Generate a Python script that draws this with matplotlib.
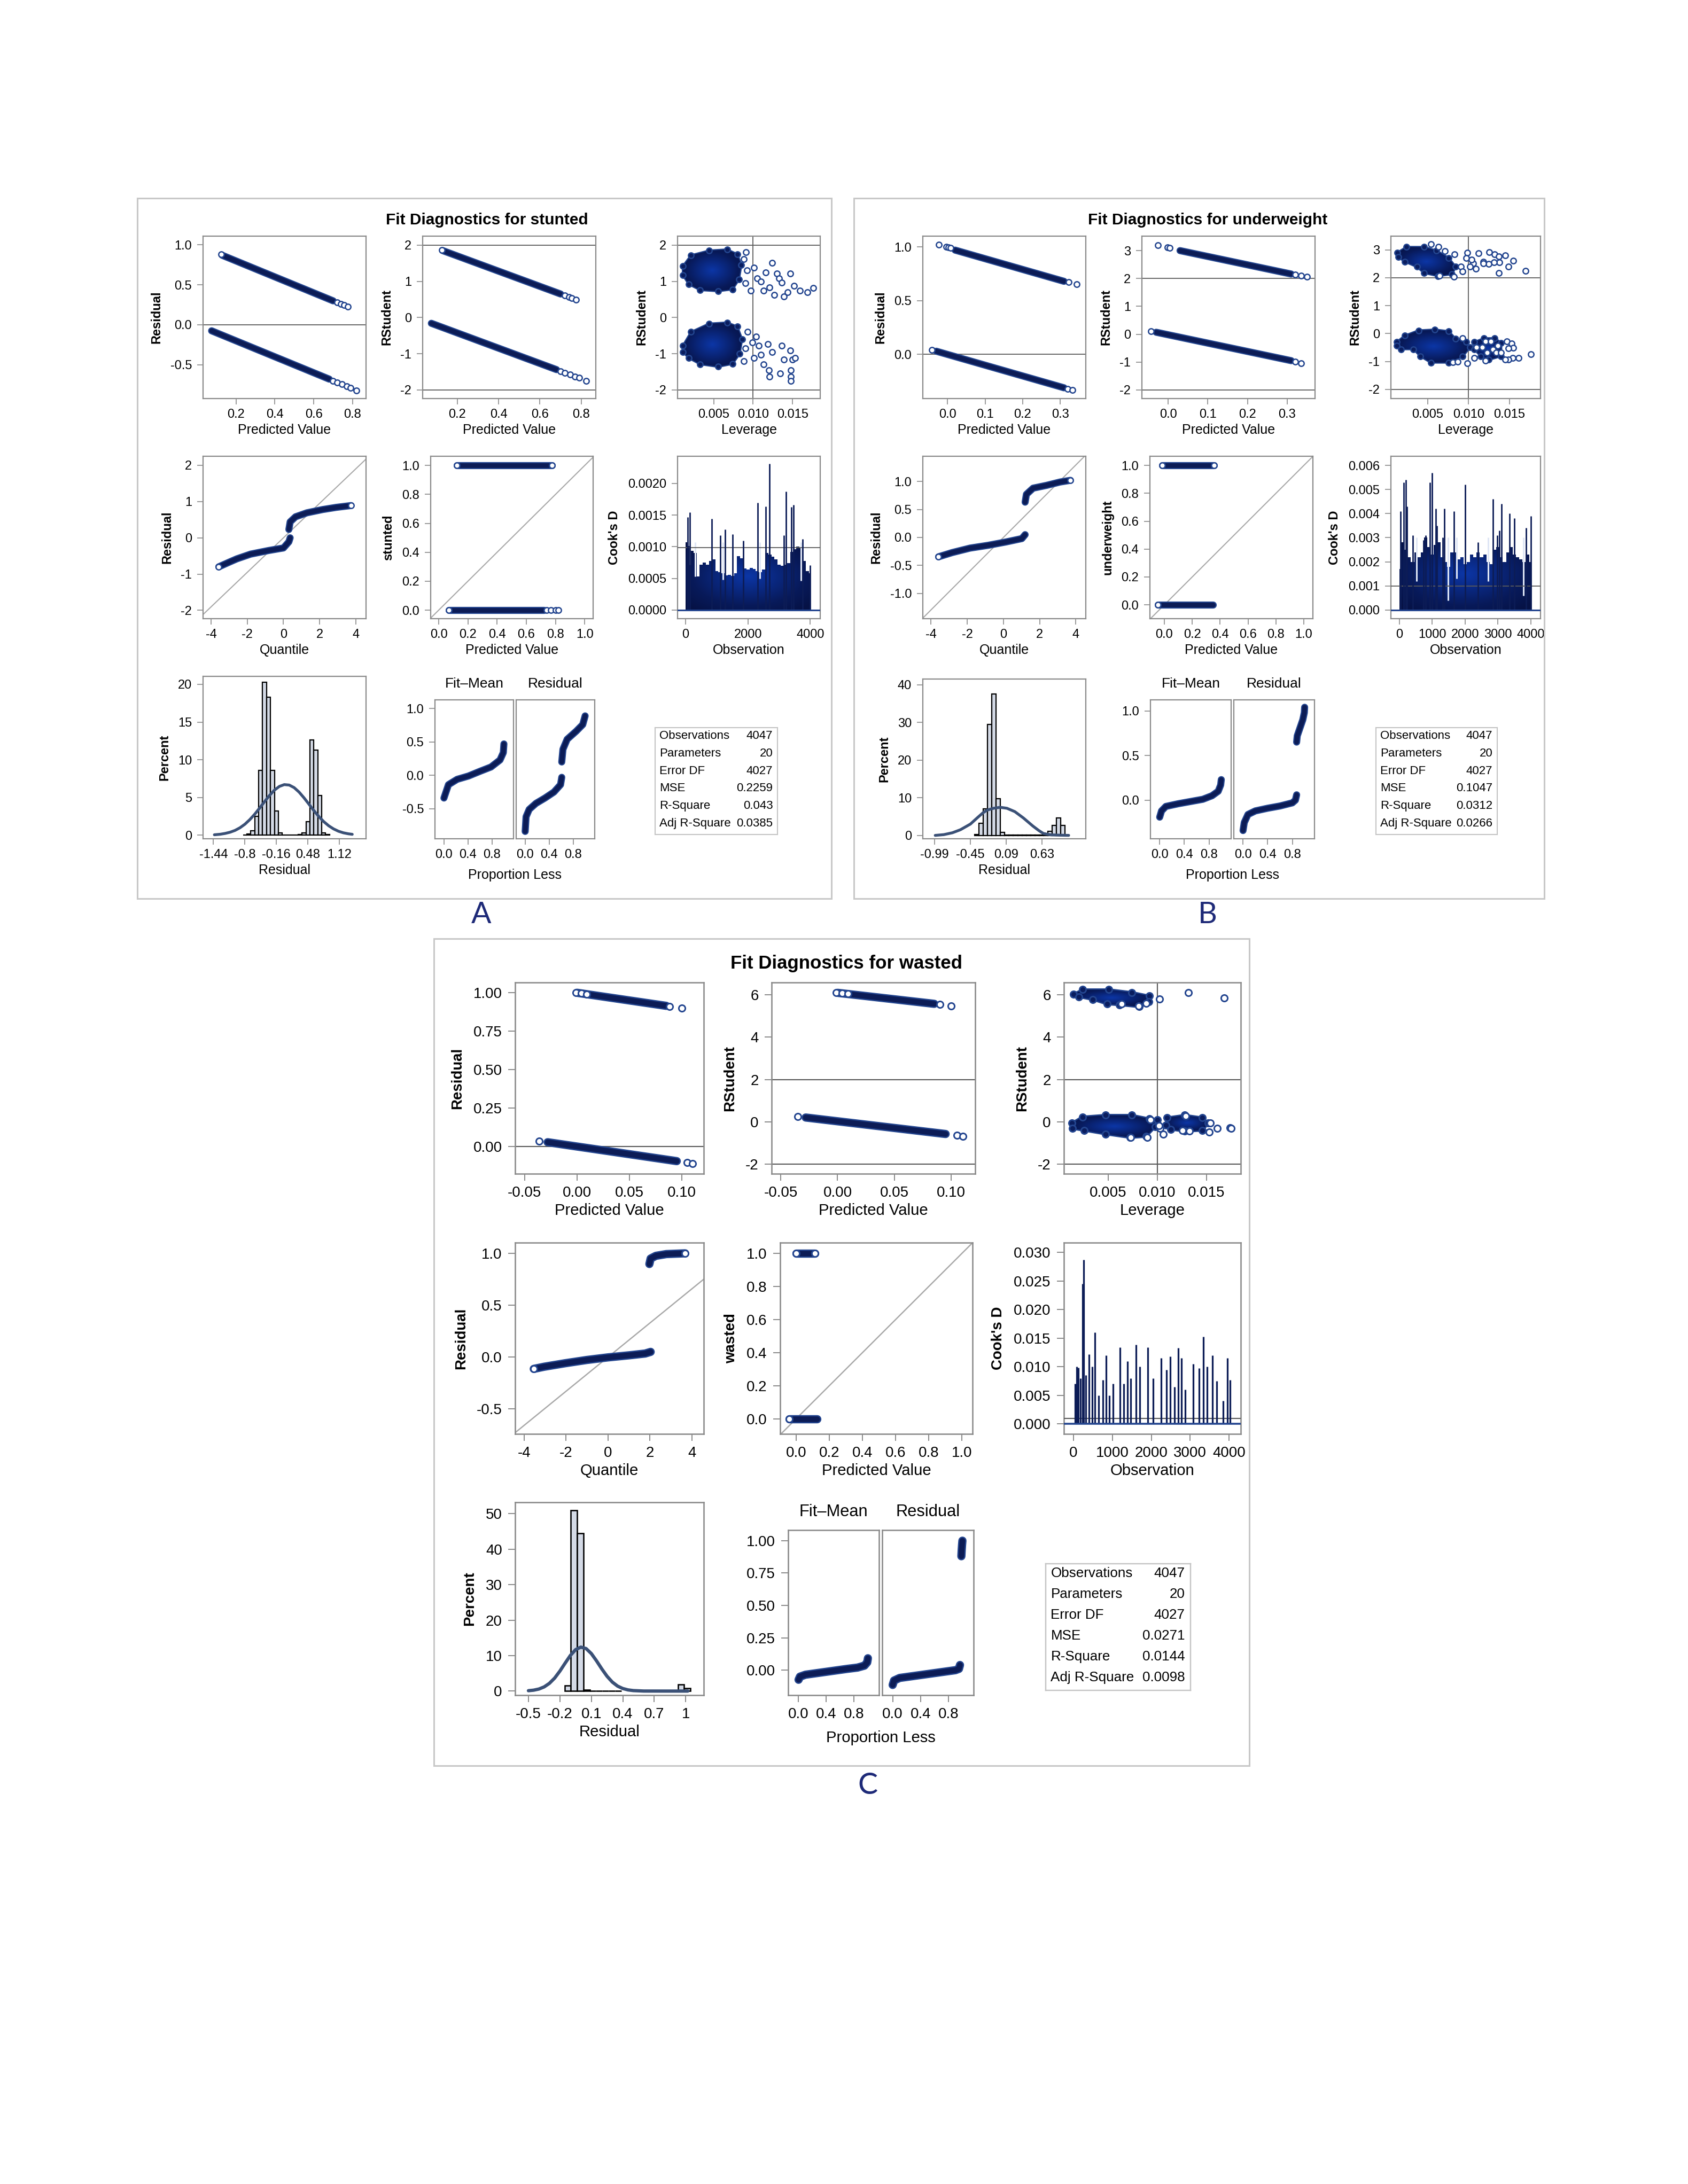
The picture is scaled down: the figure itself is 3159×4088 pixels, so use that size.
import matplotlib
matplotlib.use("Agg")
import matplotlib.pyplot as plt
import numpy as np
from matplotlib.patches import Polygon, Rectangle
from matplotlib.colors import LinearSegmentedColormap
from matplotlib.ticker import FormatStrFormatter

# ---------------- data ----------------
STAT_LABELS = ["Observations", "Parameters", "Error DF", "MSE", "R-Square", "Adj R-Square"]
N_OBS = 4047

# A: stunted
A_STATS = ["4047", "20", "4027", "0.2259", "0.043", "0.0385"]
A_RES_HI_X = [0.13, 0.70]
A_RES_HI_Y = [0.87, 0.30]
A_RES_HI_TX = [0.125, 0.72, 0.74, 0.755, 0.775]
A_RES_HI_TY = [0.88, 0.28, 0.26, 0.245, 0.225]
A_RES_LO_X = [0.075, 0.68]
A_RES_LO_Y = [-0.075, -0.68]
A_RES_LO_TX = [0.70, 0.72, 0.745, 0.77, 0.79, 0.82]
A_RES_LO_TY = [-0.70, -0.72, -0.745, -0.77, -0.79, -0.82]
A_RST_HI_X = [0.13, 0.70]
A_RST_HI_Y = [1.85, 0.65]
A_RST_HI_TX = [0.125, 0.72, 0.74, 0.755, 0.775]
A_RST_HI_TY = [1.87, 0.61, 0.57, 0.53, 0.49]
A_RST_LO_X = [0.075, 0.68]
A_RST_LO_Y = [-0.16, -1.44]
A_RST_LO_TX = [0.70, 0.72, 0.745, 0.77, 0.79, 0.824]
A_RST_LO_TY = [-1.49, -1.53, -1.58, -1.63, -1.67, -1.75]
A_LEV_HI_CX = [0.00111, 0.00214, 0.00443, 0.00671, 0.0080, 0.0085, 0.0082, 0.0074, 0.00557, 0.00329, 0.00186, 0.00111]
A_LEV_HI_CY = [1.42, 1.72, 1.85, 1.88, 1.75, 1.45, 1.05, 0.78, 0.73, 0.76, 0.92, 1.17]
A_LEV_HI_SX = [0.0088, 0.0092, 0.0090, 0.0097, 0.0101, 0.0105, 0.0110, 0.0113, 0.0116, 0.0121, 0.0124,
               0.0127, 0.0130, 0.0133, 0.0136, 0.0139, 0.0144, 0.0147, 0.0152, 0.0159, 0.0169, 0.0176, 0.0091]
A_LEV_HI_SY = [1.62, 1.30, 0.95, 0.75, 1.38, 1.08, 1.00, 0.75, 1.25, 0.83, 1.51,
               0.62, 1.21, 1.08, 0.96, 0.58, 0.70, 1.21, 0.87, 0.75, 0.70, 0.81, 1.80]
A_LEV_LO_CX = [0.00111, 0.00214, 0.00443, 0.00671, 0.0080, 0.0086, 0.0083, 0.0074, 0.00557, 0.00329, 0.00186, 0.00111]
A_LEV_LO_CY = [-0.78, -0.40, -0.17, -0.14, -0.25, -0.60, -1.00, -1.28, -1.36, -1.29, -1.12, -0.95]
A_LEV_LO_SX = [0.0090, 0.0093, 0.0099, 0.0101, 0.0104, 0.0107, 0.0110, 0.0113, 0.0119, 0.0120, 0.0121,
               0.0124, 0.0134, 0.0136, 0.0139, 0.0147, 0.0148, 0.0148, 0.0148, 0.0150, 0.0153, 0.0088]
A_LEV_LO_SY = [-0.85, -0.40, -0.69, -1.12, -0.53, -0.78, -1.03, -1.29, -0.74, -1.46, -1.63,
               -0.95, -1.54, -0.78, -1.16, -0.91, -1.46, -1.63, -1.75, -1.16, -1.12, -1.20]
A_QQ_LO_X = [-3.58, -2.95, -2.58, -1.82, -0.82, 0.0, 0.30, 0.37]
A_QQ_LO_Y = [-0.80, -0.66, -0.58, -0.45, -0.35, -0.28, -0.11, 0.0]
A_QQ_HI_X = [0.30, 0.37, 0.67, 1.3, 2.17, 2.92, 3.74]
A_QQ_HI_Y = [0.23, 0.44, 0.58, 0.69, 0.78, 0.84, 0.89]
A_OBS_HI_X = [0.123, 0.775]
A_OBS_LO_X = [0.068, 0.72]
A_OBS_LO_TX = [0.74, 0.77, 0.80, 0.82]
A_COOK_BAND = [0.00107, 0.00101, 0.00094, 0.00090, 0.00053, 0.00072, 0.00075, 0.00072, 0.00078, 0.00080,
               0.00062, 0.00060, 0.00058, 0.00055, 0.00056, 0.00054, 0.00058, 0.00085, 0.00082, 0.00066,
               0.00064, 0.00067, 0.00065, 0.00062, 0.00060, 0.00064, 0.00090, 0.00088, 0.00084, 0.00080,
               0.00072, 0.00070, 0.00072, 0.00074, 0.00092, 0.00096, 0.00100, 0.00098, 0.00078, 0.00062,
               0.00058]
A_COOK_OBS = [74, 142, 834, 1106, 1265, 1503, 1855, 2314, 2564, 2694, 3148, 3222, 3392, 3466, 3744, 3988]
A_COOK_VAL = [0.00147, 0.00154, 0.00144, 0.00118, 0.00127, 0.00120, 0.00110, 0.00170, 0.00164, 0.00231,
              0.00118, 0.00187, 0.00163, 0.00166, 0.00112, 0.00071]
A_COOK_DIP_OBS = [142, 300, 1190, 2380, 3700]
A_COOK_DIP_VAL = [0.00072, 0.00053, 0.00048, 0.00050, 0.00046]
A_HIST_BIN = 0.08
A_HIST_MID = [-0.80, -0.72, -0.64, -0.56, -0.48, -0.40, -0.32, -0.24, -0.16, -0.08, 0.00, 0.08,
              0.16, 0.24, 0.32, 0.40, 0.48, 0.56, 0.64, 0.72, 0.80, 0.88]
A_HIST_PCT = [0.05, 0.2, 0.6, 2.5, 8.6, 20.3, 18.3, 8.6, 3.2, 0.3, 0.05, 0.05,
              0.05, 0.05, 0.1, 0.3, 1.8, 12.6, 11.3, 5.3, 0.3, 0.1]
A_NORM_X = [-1.42, -1.3, -1.2, -1.1, -1.0, -0.9, -0.8, -0.7, -0.6, -0.5, -0.4, -0.3, -0.2, -0.1, 0.0,
            0.1, 0.2, 0.3, 0.4, 0.5, 0.6, 0.7, 0.8, 0.9, 1.0, 1.1, 1.2, 1.3, 1.38]
A_NORM_Y = [0.06, 0.13, 0.24, 0.40, 0.64, 0.99, 1.46, 2.07, 2.79, 3.61, 4.46, 5.28, 5.98, 6.47, 6.71,
            6.65, 6.31, 5.72, 4.96, 4.12, 3.27, 2.49, 1.81, 1.26, 0.84, 0.53, 0.32, 0.19, 0.12]
A_HIST_TICKS = [-1.44, -0.8, -0.16, 0.48, 1.12]
A_HIST_TICKLABELS = ["-1.44", "-0.8", "-0.16", "0.48", "1.12"]
A_FM_P = [0.0, 0.075, 0.22, 0.41, 0.6, 0.785, 0.935, 0.99, 1.0]
A_FM_Y = [-0.34, -0.14, -0.06, -0.01, 0.06, 0.125, 0.23, 0.34, 0.47]
A_RS_LO_P = [0.0, 0.015, 0.067, 0.18, 0.33, 0.48, 0.59, 0.61]
A_RS_LO_Y = [-0.84, -0.62, -0.51, -0.42, -0.34, -0.25, -0.14, -0.03]
A_RS_HI_P = [0.61, 0.63, 0.70, 0.85, 0.96, 1.0]
A_RS_HI_Y = [0.20, 0.39, 0.54, 0.66, 0.76, 0.89]

# B: underweight
B_STATS = ["4047", "20", "4027", "0.1047", "0.0312", "0.0266"]
B_RES_HI_X = [0.02, 0.31]
B_RES_HI_Y = [0.97, 0.68]
B_RES_HI_TX = [-0.024, -0.004, 0.002, 0.008, 0.322, 0.344]
B_RES_HI_TY = [1.02, 1.0, 0.995, 0.99, 0.675, 0.655]
B_RES_LO_X = [-0.03, 0.31]
B_RES_LO_Y = [0.03, -0.31]
B_RES_LO_TX = [-0.042, 0.32, 0.333]
B_RES_LO_TY = [0.042, -0.32, -0.333]
B_RST_HI_X = [0.03, 0.31]
B_RST_HI_Y = [3.0, 2.16]
B_RST_HI_TX = [-0.025, -0.002, 0.004, 0.32, 0.335, 0.35]
B_RST_HI_TY = [3.2, 3.12, 3.1, 2.14, 2.1, 2.07]
B_RST_LO_X = [-0.03, 0.31]
B_RST_LO_Y = [0.07, -0.95]
B_RST_LO_TX = [-0.043, 0.32, 0.335]
B_RST_LO_TY = [0.11, -0.98, -1.04]
B_LEV_HI_CX = [0.00134, 0.00242, 0.0046, 0.0061, 0.00758, 0.00844, 0.0080, 0.0063, 0.0046, 0.0037, 0.0022, 0.00145]
B_LEV_HI_CY = [2.90, 3.10, 3.10, 2.97, 2.71, 2.39, 2.13, 2.06, 2.17, 2.39, 2.58, 2.74]
B_LEV_HI_SX = [0.0054, 0.00633, 0.0071, 0.00827, 0.00984, 0.01124, 0.01253, 0.01317, 0.01371, 0.0145,
               0.0155, 0.0149, 0.0138, 0.0131, 0.0125, 0.0118, 0.0118, 0.0137, 0.0170, 0.0106, 0.0102,
               0.0109, 0.0091, 0.0093, 0.0082, 0.0065, 0.0097, 0.0104]
B_LEV_HI_SY = [3.21, 3.11, 2.96, 2.84, 2.90, 2.88, 2.92, 2.84, 2.76, 2.81,
               2.60, 2.40, 2.55, 2.55, 2.49, 2.57, 2.51, 2.17, 2.24, 2.51, 2.39,
               2.33, 2.39, 2.23, 2.03, 2.07, 2.71, 2.65]
B_LEV_LO_CX = [0.00124, 0.0022, 0.0039, 0.0059, 0.0076, 0.0084, 0.0097, 0.0102, 0.0093, 0.0076, 0.0054,
               0.0041, 0.0033, 0.0018, 0.00124]
B_LEV_LO_CY = [-0.31, -0.08, 0.11, 0.14, 0.08, -0.18, -0.31, -0.49, -0.82, -1.04, -1.04,
               -0.81, -0.56, -0.56, -0.43]
B_LEV_LO2_CX = [0.0107, 0.0119, 0.0132, 0.0140, 0.0140, 0.0125, 0.0115, 0.0107]
B_LEV_LO2_CY = [-0.31, -0.17, -0.17, -0.33, -0.81, -0.94, -0.81, -0.56]
B_LEV_LO_SX = [0.0147, 0.0153, 0.0155, 0.0149, 0.0154, 0.0161, 0.0176, 0.0149, 0.00984, 0.0107, 0.0093,
               0.0117, 0.0123, 0.0130, 0.0136, 0.0121, 0.0127, 0.0134, 0.0140, 0.0145, 0.0121, 0.0110,
               0.0081, 0.0087]
B_LEV_LO_SY = [-0.28, -0.36, -0.51, -0.53, -0.87, -0.87, -0.74, -0.94, -1.07, -0.87, -0.17,
               -0.49, -0.68, -0.56, -0.43, -0.28, -0.28, -0.68, -0.68, -0.94, -0.97, -0.49,
               -1.02, -1.00]
B_QQ_LO_X = [-3.58, -2.83, -1.84, -0.84, 0.15, 1.02, 1.2]
B_QQ_LO_Y = [-0.345, -0.27, -0.19, -0.14, -0.08, -0.02, 0.05]
B_QQ_HI_X = [1.2, 1.27, 1.64, 2.38, 3.13, 3.7]
B_QQ_HI_Y = [0.63, 0.77, 0.88, 0.93, 0.99, 1.02]
B_OBS_HI_X = [-0.015, 0.358]
B_OBS_LO_X = [-0.045, 0.35]
B_OBS_LO_TX = []
B_COOK_BAND = [0.0017, 0.0028, 0.0025, 0.0022, 0.0020, 0.0024, 0.0022, 0.0024, 0.0030, 0.0026,
               0.0023, 0.0027, 0.0028, 0.0022, 0.0020, 0.0018, 0.0024, 0.0024, 0.0021, 0.0022,
               0.0019, 0.0020, 0.0023, 0.0022, 0.0024, 0.0022, 0.0023, 0.0020, 0.0019, 0.0025,
               0.0026, 0.0022, 0.0020, 0.0024, 0.0026, 0.0023, 0.0022, 0.0021, 0.0020, 0.0023, 0.0020]
B_COOK_OBS = [27, 135, 200, 232, 405, 730, 795, 935, 1000, 1108, 1135, 1313, 1368, 1665, 2010, 2395,
              2854, 2973, 3038, 3108, 3362, 3497, 3865, 4010]
B_COOK_VAL = [0.0041, 0.0053, 0.0054, 0.0043, 0.0031, 0.0029, 0.0031, 0.0053, 0.0057, 0.0042, 0.0035,
              0.0030, 0.0042, 0.0041, 0.0052, 0.0028, 0.0046, 0.0031, 0.0033, 0.0044, 0.0040, 0.0038,
              0.0034, 0.0039]
B_COOK_DIP_OBS = [1486, 3773, 520, 1750, 2700]
B_COOK_DIP_VAL = [0.0004, 0.0006, 0.0012, 0.0013, 0.0012]
B_HIST_BIN = 0.065
B_HIST_MID = [-0.355, -0.29, -0.225, -0.16, -0.095, -0.03, 0.035, 0.10, 0.165, 0.23, 0.295, 0.36,
              0.425, 0.49, 0.555, 0.62, 0.685, 0.75, 0.815, 0.88, 0.945, 1.01]
B_HIST_PCT = [0.2, 3.2, 7.0, 29.4, 37.5, 9.8, 0.85, 0.05, 0.05, 0.05, 0.05, 0.05,
              0.05, 0.05, 0.05, 0.1, 0.3, 1.1, 2.6, 4.6, 2.6, 0.15]
B_NORM_X = [-0.98, -0.85, -0.72, -0.6, -0.45, -0.35, -0.26, -0.2, -0.1, 0.0, 0.1, 0.22, 0.35, 0.49,
            0.58, 0.65, 0.76, 0.9, 1.03]
B_NORM_Y = [0.0, 0.2, 0.7, 1.5, 3.0, 4.6, 6.0, 6.7, 7.2, 7.45, 7.2, 6.3, 4.6, 2.5,
            1.3, 0.5, 0.15, 0.05, 0.0]
B_HIST_TICKS = [-0.99, -0.45, 0.09, 0.63]
B_HIST_TICKLABELS = ["-0.99", "-0.45", "0.09", "0.63"]
B_FM_P = [0.0, 0.03, 0.1, 0.3, 0.5, 0.7, 0.85, 0.95, 0.99, 1.0]
B_FM_Y = [-0.19, -0.12, -0.07, -0.04, -0.015, 0.01, 0.05, 0.10, 0.17, 0.23]
B_RS_LO_P = [0.0, 0.02, 0.08, 0.2, 0.4, 0.6, 0.8, 0.85, 0.87]
B_RS_LO_Y = [-0.34, -0.25, -0.16, -0.12, -0.09, -0.065, -0.03, 0.0, 0.06]
B_RS_HI_P = [0.87, 0.88, 0.92, 0.97, 0.995, 1.0]
B_RS_HI_Y = [0.65, 0.72, 0.80, 0.90, 0.98, 1.04]

# C: wasted
C_STATS = ["4047", "20", "4027", "0.0271", "0.0144", "0.0098"]
C_RES_HI_X = [0.0, 0.085]
C_RES_HI_Y = [1.0, 0.915]
C_RES_HI_TX = [-0.001, 0.004, 0.009, 0.088, 0.10]
C_RES_HI_TY = [1.001, 0.996, 0.991, 0.912, 0.90]
C_RES_LO_X = [-0.028, 0.095]
C_RES_LO_Y = [0.028, -0.095]
C_RES_LO_TX = [-0.036, 0.105, 0.11]
C_RES_LO_TY = [0.036, -0.105, -0.11]
C_RST_HI_X = [0.0, 0.085]
C_RST_HI_Y = [6.1, 5.58]
C_RST_HI_TX = [-0.001, 0.004, 0.009, 0.09, 0.10]
C_RST_HI_TY = [6.12, 6.09, 6.06, 5.55, 5.48]
C_RST_LO_X = [-0.028, 0.095]
C_RST_LO_Y = [0.2, -0.58]
C_RST_LO_TX = [-0.035, 0.105, 0.11]
C_RST_LO_TY = [0.25, -0.65, -0.68]
C_LEV_HI_CX = [0.00149, 0.00239, 0.0051, 0.00743, 0.00923, 0.00914, 0.00815, 0.00617, 0.00491, 0.00347, 0.00203]
C_LEV_HI_CY = [6.03, 6.25, 6.25, 6.12, 5.95, 5.69, 5.44, 5.53, 5.57, 5.78, 5.91]
C_LEV_HI_SX = [0.01023, 0.01316, 0.01684, 0.0081, 0.0064, 0.0089]
C_LEV_HI_SY = [5.80, 6.10, 5.85, 5.48, 5.57, 5.61]
C_LEV_LO_CX = [0.00131, 0.00239, 0.00473, 0.00743, 0.00923, 0.0100, 0.0098, 0.00887, 0.00725, 0.00473,
               0.00257, 0.0014]
C_LEV_LO_CY = [-0.07, 0.23, 0.31, 0.31, 0.14, 0.10, -0.24, -0.70, -0.75, -0.58, -0.41, -0.32]
C_LEV_LO2_CX = [0.0110, 0.0128, 0.0146, 0.0152, 0.0146, 0.0128, 0.0114, 0.0109]
C_LEV_LO2_CY = [0.19, 0.31, 0.19, -0.07, -0.41, -0.45, -0.36, -0.15]
C_LEV_LO_SX = [0.0103, 0.0106, 0.0102, 0.0153, 0.0161, 0.0174, 0.0175, 0.0129, 0.0093, 0.0073,
               0.0090, 0.0133, 0.0126, 0.0154]
C_LEV_LO_SY = [-0.32, -0.58, -0.19, -0.49, -0.32, -0.28, -0.32, 0.27, 0.10, -0.75,
               -0.75, -0.45, -0.41, -0.07]
C_QQ_LO_X = [-3.54, -3.04, -2.03, -1.01, 0.0, 1.01, 1.77, 2.03]
C_QQ_LO_Y = [-0.114, -0.093, -0.059, -0.028, -0.003, 0.017, 0.034, 0.05]
C_QQ_HI_X = [1.97, 2.03, 2.28, 2.78, 3.67]
C_QQ_HI_Y = [0.897, 0.95, 0.976, 0.993, 1.0]
C_OBS_HI_X = [0.0, 0.112]
C_OBS_LO_X = [-0.042, 0.125]
C_OBS_LO_TX = []
C_COOK_OBS = [41, 82, 123, 178, 232, 260, 314, 396, 478, 546, 642, 751, 833, 928, 1024, 1201, 1297, 1393,
              1474, 1611, 1706, 1911, 2048, 2253, 2389, 2485, 2594, 2690, 2771, 2867, 3072, 3235, 3345,
              3440, 3577, 3686, 3850, 3959, 4027]
C_COOK_VAL = [0.0070, 0.0100, 0.0098, 0.0080, 0.0245, 0.0287, 0.0085, 0.0122, 0.0100, 0.0160, 0.0050,
              0.0077, 0.0120, 0.0050, 0.0070, 0.0134, 0.0070, 0.0110, 0.0080, 0.0139, 0.0100, 0.0134,
              0.0080, 0.0115, 0.0095, 0.0118, 0.0065, 0.0133, 0.0115, 0.0060, 0.0105, 0.0097, 0.0153,
              0.0100, 0.0120, 0.0075, 0.0040, 0.0115, 0.0077]
C_HIST_BIN = 0.06
C_HIST_MID = [-0.125, -0.065, -0.005, 0.055, 0.115, 0.175, 0.235, 0.295, 0.355, 0.955, 1.015]
C_HIST_PCT = [1.5, 51.0, 44.5, 0.3, 0.1, 0.1, 0.1, 0.05, 0.05, 1.8, 0.8]
C_NORM_X = [-0.5, -0.45, -0.4, -0.35, -0.3, -0.25, -0.2, -0.15, -0.1, -0.05, 0.0, 0.05, 0.1, 0.15,
            0.2, 0.25, 0.3, 0.35, 0.4, 0.45, 0.5, 0.6, 0.8, 1.02]
C_NORM_Y = [0.11, 0.26, 0.58, 1.18, 2.18, 3.66, 5.63, 7.87, 10.04, 11.68, 12.39, 11.98, 10.57, 8.5,
            6.24, 4.17, 2.54, 1.41, 0.72, 0.33, 0.14, 0.01, 0.0, 0.0]
C_HIST_TICKS = [-0.5, -0.2, 0.1, 0.4, 0.7, 1.0]
C_HIST_TICKLABELS = ["-0.5", "-0.2", "0.1", "0.4", "0.7", "1"]
C_FM_P = [0.0, 0.02, 0.1, 0.3, 0.5, 0.7, 0.85, 0.95, 0.99, 1.0]
C_FM_Y = [-0.074, -0.05, -0.035, -0.02, -0.005, 0.01, 0.02, 0.035, 0.06, 0.092]
C_RS_LO_P = [0.0, 0.02, 0.1, 0.3, 0.5, 0.7, 0.9, 0.95, 0.965]
C_RS_LO_Y = [-0.114, -0.08, -0.06, -0.045, -0.03, -0.015, 0.0, 0.01, 0.04]
C_RS_HI_P = [0.985, 0.99, 0.995, 1.0]
C_RS_HI_Y = [0.88, 0.93, 0.97, 1.0]

COOK_BAND_OBS = list(range(0, 4001, 100))

# ---------------- style ----------------
W, H, DPI = 3159, 4088, 100
NAVY = "#0c1c56"
EDGE = "#23458f"
CLOUD = "#0a1d5e"
FRAME = "#8a8a8a"
TICKC = "#8a8a8a"
REF = "#5a5a5a"
DIAG = "#a8a8a8"
BAR = "#d4dae6"
CURVE = "#3b5177"
LETTER = "#1e2a78"
RAD_CMAP = LinearSegmentedColormap.from_list("rad", ["#0c36a6", "#0a2880", "#081a5a", "#061245"])
REG = ["Liberation Sans", "DejaVu Sans"]

plt.rcParams["font.family"] = REG
plt.rcParams["axes.unicode_minus"] = False

fig = plt.figure(figsize=(W / DPI, H / DPI), dpi=DPI)
fig.patch.set_facecolor("white")


def px_axes(l, t, r, b):
    return fig.add_axes([l / W, 1 - b / H, (r - l) / W, (b - t) / H])


def setup(ax, s, xlim, ylim, xt, yt, xf=None, yf=None, xlabel=None, ylabel=None, xtl=None):
    ax.set_xlim(*xlim)
    ax.set_ylim(*ylim)
    ax.set_xticks(xt)
    ax.set_yticks(yt)
    if xtl is not None:
        ax.set_xticklabels(xtl)
    elif xf:
        ax.xaxis.set_major_formatter(FormatStrFormatter(xf))
    if yf:
        ax.yaxis.set_major_formatter(FormatStrFormatter(yf))
    for sp in ax.spines.values():
        sp.set_color(FRAME)
        sp.set_linewidth(1.6 * s)
    ax.tick_params(direction="out", length=8 * s, width=1.2 * s, color=TICKC,
                   labelsize=17 * s, labelcolor="black")
    ax.tick_params(axis="x", pad=6 * s)
    ax.tick_params(axis="y", pad=7 * s)
    if xlabel:
        ax.set_xlabel(xlabel, fontsize=18 * s, labelpad=4 * s)
    if ylabel:
        ax.set_ylabel(ylabel, fontsize=17 * s, fontweight="bold", labelpad=10 * s)


def radial_fill(ax, clip_path, clip_tr, x0, x1, y0, y1, z):
    g = np.linspace(-1, 1, 160)
    gx, gy = np.meshgrid(g, g)
    im = ax.imshow(np.hypot(gx, gy), extent=[x0, x1, y0, y1], origin="lower", cmap=RAD_CMAP,
                   vmin=0, vmax=1.3, aspect="auto", interpolation="bilinear", zorder=z)
    im.set_clip_path(clip_path, transform=clip_tr)


def band(ax, s, xs, ys):
    ax.plot(xs, ys, "-", color=EDGE, lw=9.5 * s, solid_capstyle="round", zorder=3)
    ax.plot(xs, ys, "-", color=NAVY, lw=6.5 * s, solid_capstyle="round", zorder=3.1)


def pts(ax, s, xs, ys):
    ax.plot(xs, ys, "o", ls="none", ms=7.5 * s, mfc="white", mec=EDGE, mew=1.8 * s, zorder=3.2)


def cloud(ax, s, cx, cy):
    poly = Polygon(np.column_stack([cx, cy]), closed=True, facecolor=CLOUD,
                   edgecolor=EDGE, lw=3 * s, joinstyle="round", zorder=3)
    ax.add_patch(poly)
    radial_fill(ax, poly.get_path(), poly.get_transform(), min(cx), max(cx), min(cy), max(cy), 3.05)
    ax.plot(cx, cy, "o", ls="none", ms=7.5 * s, mfc=CLOUD, mec=EDGE, mew=1.8 * s, zorder=3.1)


def resid_plot(box, s, hi, hit, lo, lot, xlim, ylim, xt, yt, xf, yf, ylabel, refs):
    ax = px_axes(*box)
    for r in refs:
        ax.axhline(r, color=REF, lw=1.3 * s, zorder=1)
    band(ax, s, *hi)
    pts(ax, s, *hit)
    band(ax, s, *lo)
    pts(ax, s, *lot)
    setup(ax, s, xlim, ylim, xt, yt, xf, yf, "Predicted Value", ylabel)
    return ax


def lev_plot(box, s, clouds, sparse, xlim, ylim, yt):
    ax = px_axes(*box)
    for r in (-2, 2):
        ax.axhline(r, color=REF, lw=1.3 * s, zorder=1)
    ax.axvline(0.010, color=REF, lw=1.3 * s, zorder=1)
    for cx, cy in clouds:
        cloud(ax, s, cx, cy)
    for sx, sy in sparse:
        pts(ax, s, sx, sy)
    setup(ax, s, xlim, ylim, [0.005, 0.010, 0.015], yt, "%.3f", "%d", "Leverage", "RStudent")
    return ax


def qq_plot(box, s, lo, hi, mse, xlim, ylim, yt, yf):
    ax = px_axes(*box)
    ax.axline((0, 0), slope=np.sqrt(float(mse)), color=DIAG, lw=1.5 * s, zorder=1)
    band(ax, s, *lo)
    band(ax, s, *hi)
    pts(ax, s, [lo[0][0]], [lo[1][0]])
    pts(ax, s, [hi[0][-1]], [hi[1][-1]])
    setup(ax, s, xlim, ylim, [-4, -2, 0, 2, 4], yt, "%d", yf, "Quantile", "Residual")
    return ax


def obs_plot(box, s, hix, lox, lotx, xlim, ylim, ylabel):
    ax = px_axes(*box)
    ax.axline((0, 0), (1, 1), color=DIAG, lw=1.5 * s, zorder=1)
    band(ax, s, hix, [1, 1])
    band(ax, s, lox, [0, 0])
    pts(ax, s, [hix[0], hix[-1]], [1, 1])
    pts(ax, s, [lox[0]] + list(lotx), [0] * (1 + len(lotx)))
    if lotx:
        ax.plot([lox[-1], lotx[-1]], [0, 0], "-", color=NAVY, lw=3 * s, zorder=3)
    tk = [0.0, 0.2, 0.4, 0.6, 0.8, 1.0]
    setup(ax, s, xlim, ylim, tk, tk, "%.1f", "%.1f", "Predicted Value", ylabel)
    return ax


def cook_plot(box, s, band_vals, spk_obs, spk_val, dip_obs, dip_val, xlim, ylim, xt, yt, yf):
    ax = px_axes(*box)
    if band_vals:
        coll = ax.fill_between(COOK_BAND_OBS, 0, band_vals, step="mid", color=NAVY, lw=0, zorder=2)
        radial_fill(ax, coll.get_paths()[0], ax.transData, -60, 4060, 0, max(band_vals), 2.1)
        ax.vlines(dip_obs, dip_val, max(band_vals), color="#dfe6f5", lw=2.2 * s, zorder=2.5)
    ax.vlines(spk_obs, 0, spk_val, color=NAVY, lw=2.0 * s, zorder=3)
    ax.axhline(4 / N_OBS, color=REF, lw=1.3 * s, zorder=2.8)
    ax.axhline(0, color=EDGE, lw=2.2 * s, zorder=3.5)
    setup(ax, s, xlim, ylim, xt, yt, "%d", yf, "Observation", "Cook's D")
    return ax


def hist_plot(box, s, mid, pct, width, nx, ny, xlim, ylim, xt, xtl, yt):
    ax = px_axes(*box)
    ax.bar(mid, pct, width=width, color=BAR, edgecolor="black", linewidth=1.6 * s, zorder=2)
    ax.plot(nx, ny, "-", color=CURVE, lw=3.8 * s, solid_capstyle="round", zorder=3)
    setup(ax, s, xlim, ylim, xt, yt, None, "%d", "Residual", "Percent", xtl=xtl)
    return ax


def rf_plot(boxl, boxr, s, fm, rs_lo, rs_hi, ylim, yt, yf, header_y):
    axl = px_axes(*boxl)
    band(axl, s, *fm)
    setup(axl, s, (-0.15, 1.16), ylim, [0.0, 0.4, 0.8], yt, "%.1f", yf)
    axr = px_axes(*boxr)
    band(axr, s, *rs_lo)
    band(axr, s, *rs_hi)
    setup(axr, s, (-0.15, 1.16), ylim, [0.0, 0.4, 0.8], [], "%.1f", None)
    axr.tick_params(left=False, labelleft=False)
    for bx, txt in ((boxl, "Fit\u2013Mean"), (boxr, "Residual")):
        fig.text((bx[0] + bx[2]) / 2 / W, 1 - header_y / H, txt, fontsize=19 * s,
                 ha="center", va="center")
    xl = (boxl[0] + boxr[2]) / 2
    fig.text(xl / W, 1 - (boxl[3] + 68 * s) / H, "Proportion Less", fontsize=18 * s,
             ha="center", va="center")


def stats_table(box, s, values):
    ax = px_axes(*box)
    ax.set_xticks([])
    ax.set_yticks([])
    for sp in ax.spines.values():
        sp.set_color("#c4c4c4")
        sp.set_linewidth(1.5 * s)
    for i, (lab, val) in enumerate(zip(STAT_LABELS, values)):
        y = 1 - (0.078 + i * 0.1638)
        ax.text(0.035, y, lab, fontsize=16 * s, ha="left", va="center", transform=ax.transAxes)
        ax.text(0.962, y, val, fontsize=16 * s, ha="right", va="center", transform=ax.transAxes)


def frame_box(l, t, r, b):
    fig.add_artist(Rectangle((l / W, 1 - b / H), (r - l) / W, (b - t) / H, transform=fig.transFigure,
                             fill=False, edgecolor="#c8c8c8", lw=2.2))


def title(x, y, txt, s):
    fig.text(x / W, 1 - y / H, txt, fontsize=21.5 * s, fontweight="bold", ha="center", va="center")


def letter(x, y, txt):
    fig.text(x / W, 1 - y / H, txt, fontsize=40, color=LETTER, family=["Lato", "DejaVu Sans"],
             ha="center", va="center")


# ---------------- panel A ----------------
s = 1.0
frame_box(257, 371, 1556, 1682)
title(911, 412, "Fit Diagnostics for stunted", s)
resid_plot((380, 442, 685, 746), s, (A_RES_HI_X, A_RES_HI_Y), (A_RES_HI_TX, A_RES_HI_TY),
           (A_RES_LO_X, A_RES_LO_Y), (A_RES_LO_TX, A_RES_LO_TY),
           (0.031, 0.869), (-0.923, 1.11), [0.2, 0.4, 0.6, 0.8], [-0.5, 0.0, 0.5, 1.0],
           "%.1f", "%.1f", "Residual", [0])
resid_plot((791, 442, 1115, 746), s, (A_RST_HI_X, A_RST_HI_Y), (A_RST_HI_TX, A_RST_HI_TY),
           (A_RST_LO_X, A_RST_LO_Y), (A_RST_LO_TX, A_RST_LO_TY),
           (0.033, 0.87), (-2.24, 2.25), [0.2, 0.4, 0.6, 0.8], [-2, -1, 0, 1, 2],
           "%.1f", "%d", "RStudent", [-2, 2])
lev_plot((1268, 442, 1535, 746), s, [(A_LEV_HI_CX, A_LEV_HI_CY), (A_LEV_LO_CX, A_LEV_LO_CY)],
         [(A_LEV_HI_SX, A_LEV_HI_SY), (A_LEV_LO_SX, A_LEV_LO_SY)],
         (0.00043, 0.0185), (-2.24, 2.25), [-2, -1, 0, 1, 2])
qq_plot((380, 854, 685, 1158), s, (A_QQ_LO_X, A_QQ_LO_Y), (A_QQ_HI_X, A_QQ_HI_Y), A_STATS[3],
        (-4.45, 4.57), (-2.23, 2.25), [-2, -1, 0, 1, 2], "%d")
obs_plot((806, 854, 1110, 1158), s, A_OBS_HI_X, A_OBS_LO_X, A_OBS_LO_TX,
         (-0.055, 1.058), (-0.059, 1.064), "stunted")
cook_plot((1268, 854, 1535, 1158), s, A_COOK_BAND, A_COOK_OBS, A_COOK_VAL, A_COOK_DIP_OBS, A_COOK_DIP_VAL,
          (-260, 4318), (-0.000135, 0.00243), [0, 2000, 4000],
          [0.0, 0.0005, 0.0010, 0.0015, 0.0020], "%.4f")
hist_plot((380, 1266, 685, 1570), s, A_HIST_MID, A_HIST_PCT, A_HIST_BIN, A_NORM_X, A_NORM_Y,
          (-1.65, 1.66), (-0.47, 21.06), A_HIST_TICKS, A_HIST_TICKLABELS, [0, 5, 10, 15, 20])
rf_plot((814, 1310, 961, 1570), (966, 1310, 1113, 1570), s, (A_FM_P, A_FM_Y),
        (A_RS_LO_P, A_RS_LO_Y), (A_RS_HI_P, A_RS_HI_Y), (-0.95, 1.13),
        [-0.5, 0.0, 0.5, 1.0], "%.1f", 1280)
stats_table((1226, 1362, 1455, 1562), s, A_STATS)
letter(901, 1712, "A")

# ---------------- panel B ----------------
frame_box(1598, 371, 2890, 1682)
title(2260, 412, "Fit Diagnostics for underweight", s)
resid_plot((1727, 442, 2032, 746), s, (B_RES_HI_X, B_RES_HI_Y), (B_RES_HI_TX, B_RES_HI_TY),
           (B_RES_LO_X, B_RES_LO_Y), (B_RES_LO_TX, B_RES_LO_TY),
           (-0.066, 0.368), (-0.41, 1.10), [0.0, 0.1, 0.2, 0.3], [0.0, 0.5, 1.0],
           "%.1f", "%.1f", "Residual", [0])
resid_plot((2137, 442, 2461, 746), s, (B_RST_HI_X, B_RST_HI_Y), (B_RST_HI_TX, B_RST_HI_TY),
           (B_RST_LO_X, B_RST_LO_Y), (B_RST_LO_TX, B_RST_LO_TY),
           (-0.066, 0.37), (-2.31, 3.52), [0.0, 0.1, 0.2, 0.3], [-2, -1, 0, 1, 2, 3],
           "%.1f", "%d", "RStudent", [-2, 2])
lev_plot((2603, 442, 2883, 746), s,
         [(B_LEV_HI_CX, B_LEV_HI_CY), (B_LEV_LO_CX, B_LEV_LO_CY), (B_LEV_LO2_CX, B_LEV_LO2_CY)],
         [(B_LEV_HI_SX, B_LEV_HI_SY), (B_LEV_LO_SX, B_LEV_LO_SY)],
         (0.00053, 0.0188), (-2.33, 3.49), [-2, -1, 0, 1, 2, 3])
qq_plot((1727, 854, 2032, 1158), s, (B_QQ_LO_X, B_QQ_LO_Y), (B_QQ_HI_X, B_QQ_HI_Y), B_STATS[3],
        (-4.45, 4.55), (-1.45, 1.45), [-1.0, -0.5, 0.0, 0.5, 1.0], "%.1f")
obs_plot((2152, 854, 2457, 1158), s, B_OBS_HI_X, B_OBS_LO_X, B_OBS_LO_TX,
         (-0.103, 1.065), (-0.099, 1.066), "underweight")
cook_plot((2603, 854, 2883, 1158), s, B_COOK_BAND, B_COOK_OBS, B_COOK_VAL, B_COOK_DIP_OBS, B_COOK_DIP_VAL,
          (-260, 4300), (-0.00036, 0.00638), [0, 1000, 2000, 3000, 4000],
          [0.0, 0.001, 0.002, 0.003, 0.004, 0.005, 0.006], "%.3f")
hist_plot((1727, 1271, 2032, 1570), s, B_HIST_MID, B_HIST_PCT, B_HIST_BIN, B_NORM_X, B_NORM_Y,
          (-1.167, 1.289), (-0.9, 41.5), B_HIST_TICKS, B_HIST_TICKLABELS, [0, 10, 20, 30, 40])
rf_plot((2153, 1310, 2304, 1570), (2309, 1310, 2460, 1570), s, (B_FM_P, B_FM_Y),
        (B_RS_LO_P, B_RS_LO_Y), (B_RS_HI_P, B_RS_HI_Y), (-0.432, 1.123),
        [0.0, 0.5, 1.0], "%.1f", 1280)
stats_table((2575, 1362, 2802, 1562), s, B_STATS)
letter(2260, 1712, "B")

# ---------------- panel C ----------------
s = 1.17
frame_box(812, 1757, 2338, 3305)
title(1584, 1804, "Fit Diagnostics for wasted", s)
resid_plot((964, 1839, 1317, 2197), s, (C_RES_HI_X, C_RES_HI_Y), (C_RES_HI_TX, C_RES_HI_TY),
           (C_RES_LO_X, C_RES_LO_Y), (C_RES_LO_TX, C_RES_LO_TY),
           (-0.059, 0.1207), (-0.177, 1.067), [-0.05, 0.0, 0.05, 0.10],
           [0.0, 0.25, 0.5, 0.75, 1.0], "%.2f", "%.2f", "Residual", [0])
resid_plot((1444, 1839, 1825, 2197), s, (C_RST_HI_X, C_RST_HI_Y), (C_RST_HI_TX, C_RST_HI_TY),
           (C_RST_LO_X, C_RST_LO_Y), (C_RST_LO_TX, C_RST_LO_TY),
           (-0.058, 0.121), (-2.46, 6.59), [-0.05, 0.0, 0.05, 0.10], [-2, 0, 2, 4, 6],
           "%.2f", "%d", "RStudent", [-2, 2])
lev_plot((1991, 1839, 2322, 2197), s,
         [(C_LEV_HI_CX, C_LEV_HI_CY), (C_LEV_LO_CX, C_LEV_LO_CY), (C_LEV_LO2_CX, C_LEV_LO2_CY)],
         [(C_LEV_HI_SX, C_LEV_HI_SY), (C_LEV_LO_SX, C_LEV_LO_SY)],
         (0.00051, 0.0185), (-2.46, 6.59), [-2, 0, 2, 4, 6])
qq_plot((964, 2326, 1317, 2684), s, (C_QQ_LO_X, C_QQ_LO_Y), (C_QQ_HI_X, C_QQ_HI_Y), C_STATS[3],
        (-4.43, 4.56), (-0.741, 1.103), [-0.5, 0.0, 0.5, 1.0], "%.1f")
obs_plot((1460, 2326, 1820, 2684), s, C_OBS_HI_X, C_OBS_LO_X, C_OBS_LO_TX,
         (-0.096, 1.064), (-0.091, 1.065), "wasted")
cook_plot((1991, 2326, 2322, 2684), s, None, C_COOK_OBS, C_COOK_VAL, [], [],
          (-246, 4300), (-0.00175, 0.0317), [0, 1000, 2000, 3000, 4000],
          [0.0, 0.005, 0.010, 0.015, 0.020, 0.025, 0.030], "%.3f")
hist_plot((964, 2812, 1317, 3173), s, C_HIST_MID, C_HIST_PCT, C_HIST_BIN, C_NORM_X, C_NORM_Y,
          (-0.627, 1.172), (-1.15, 53.2), C_HIST_TICKS, C_HIST_TICKLABELS, [0, 10, 20, 30, 40, 50])
rf_plot((1475, 2864, 1645, 3173), (1651, 2864, 1822, 3173), s, (C_FM_P, C_FM_Y),
        (C_RS_LO_P, C_RS_LO_Y), (C_RS_HI_P, C_RS_HI_Y), (-0.193, 1.082),
        [0.0, 0.25, 0.5, 0.75, 1.0], "%.2f", 2830)
stats_table((1957, 2927, 2228, 3164), s, C_STATS)
letter(1624, 3342, "C")

fig.savefig("out.png", dpi=DPI)
plt.close(fig)
